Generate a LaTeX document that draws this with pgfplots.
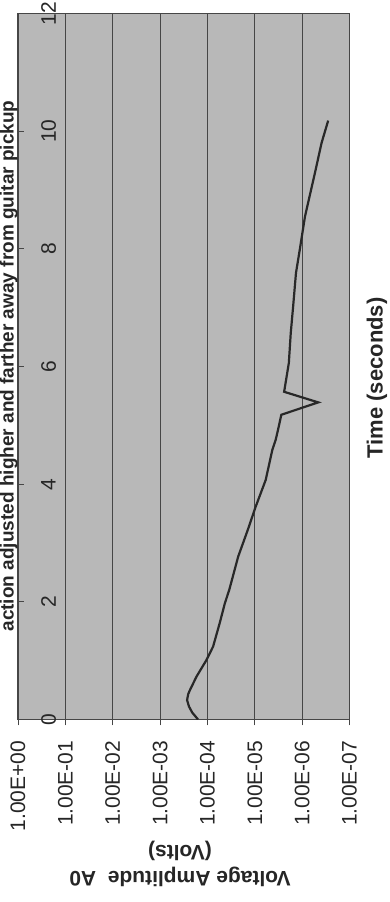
\documentclass[border=0pt]{standalone}
\usepackage{pgfplots}
\pgfplotsset{compat=1.18}
\usepackage{fontspec}
\setmainfont{Liberation Sans}
\definecolor{plotbg}{RGB}{184,184,184}
\definecolor{gridc}{RGB}{70,70,70}
\definecolor{framec}{RGB}{70,70,70}
\definecolor{curvec}{RGB}{40,40,40}
\begin{document}
\begin{tikzpicture}
\begin{axis}[
  at={(18pt,182.5pt)}, anchor=south west,
  scale only axis, width=331.5pt, height=706pt,
  xmode=log, x dir=reverse, xmin=1e-7, xmax=1,
  ymin=0, ymax=12,
  xtick={1,1e-1,1e-2,1e-3,1e-4,1e-5,1e-6,1e-7},
  xticklabels={1.00E+00,1.00E-01,1.00E-02,1.00E-03,1.00E-04,1.00E-05,1.00E-06,1.00E-07},
  ytick={0,2,4,6,8,10,12},
  yticklabels={0,2,4,6,8,10,12},
  xminorticks=false, yminorticks=false,
  xmajorgrids,
  major grid style={gridc, line width=0.9pt},
  axis line style={framec, line width=1.4pt},
  axis background/.style={fill=plotbg},
  xtick pos=left, ytick pos=left,
  xtick align=outside, ytick align=inside,
  major tick length=6pt,
  tick style={framec, line width=0.9pt},
  /pgf/number format/assume math mode=true,
  every tick label/.append style={font=\fontsize{21}{25}\selectfont, inner sep=0pt, text=black!85},
  xticklabel style={rotate=90, anchor=east},
  yticklabel style={rotate=90, anchor=north},
  xticklabel shift=15pt, yticklabel shift=-23pt,
]
\addplot[curvec, line width=2.2pt] coordinates {
(1.58e-4,0) (2.10e-4,0.12) (2.45e-4,0.22) (2.69e-4,0.33) (2.55e-4,0.43)
(2.34e-4,0.50) (1.70e-4,0.73) (1.05e-4,1.01) (7.59e-5,1.24) (5.50e-5,1.64)
(4.27e-5,1.98) (3.47e-5,2.20) (2.24e-5,2.77) (1.41e-5,3.22) (9.55e-6,3.62)
(5.89e-6,4.07) (4.27e-6,4.58) (3.63e-6,4.75) (3.24e-6,4.92) (2.75e-6,5.18)
(4.57e-7,5.39) (2.40e-6,5.57) (1.91e-6,6.06) (1.74e-6,6.57) (1.55e-6,7.02)
(1.35e-6,7.59) (1.12e-6,7.99) (8.71e-7,8.55) (5.37e-7,9.29) (3.89e-7,9.80)
(2.82e-7,10.18)
};
\end{axis}
\node[rotate=90, anchor=base, text=black!85, font=\bfseries\fontsize{19}{23}\selectfont] at (13.5pt,536pt) {action adjusted higher and farther away from guitar pickup};
\node[rotate=90, text=black!85, font=\bfseries\fontsize{22}{26}\selectfont] at (377pt,524pt) {Time (seconds)};
\node[rotate=180, align=center, text=black!85, font=\bfseries\fontsize{21}{26}\selectfont] at (180pt,38pt) {Voltage Amplitude\ \ A0\\(Volts)};
\pgfresetboundingbox
\path[use as bounding box] (0pt,0pt) rectangle (389pt,902pt);
\end{tikzpicture}
\end{document}
